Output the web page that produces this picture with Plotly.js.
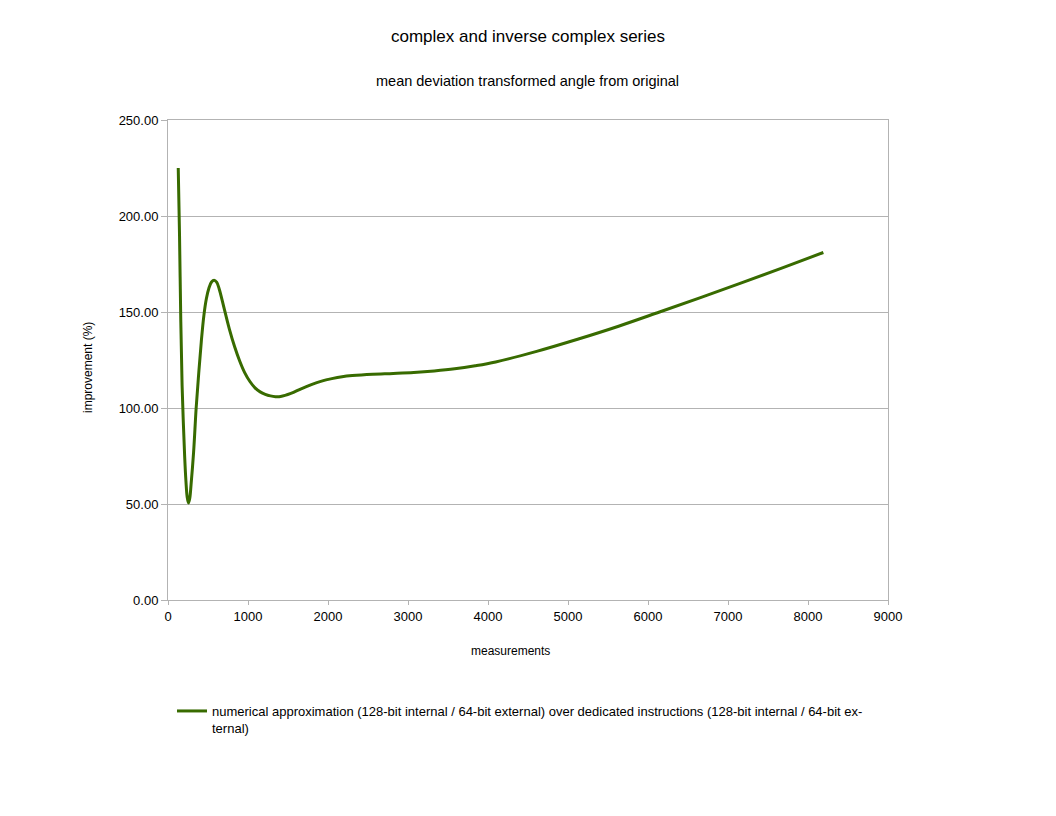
<!DOCTYPE html>
<html>
<head>
<meta charset="utf-8">
<script src="https://cdn.plot.ly/plotly-3.0.1.min.js"></script>
<style>
  html, body { margin: 0; padding: 0; background: #fff; }
  #chart { width: 1056px; height: 816px; }
</style>
</head>
<body>
<div id="chart"></div>
<script>
const measurements = [128, 144, 160, 176, 192, 208, 224, 240, 256, 272, 288, 320, 352, 384, 416, 448, 480,
  512, 544, 576, 608, 640, 704, 768, 832, 896, 960, 1024, 1088, 1152, 1216, 1280, 1344, 1408,
  1536, 1664, 1792, 1920, 2048, 2176, 2304, 2560, 2816, 3072, 3328, 3584, 3840, 4096,
  4608, 5120, 5632, 6144, 6656, 7168, 7680, 8192]

const improvement = [225.0, 190.0, 145.0, 112.0, 92.0, 75.0, 62.0, 53.5, 50.5, 53.0, 60.0, 77.0, 100.0, 118.0, 134.5, 148.0, 157.0,
  162.5, 165.6, 166.6, 165.6, 162.0, 151.5, 141.0, 132.0, 124.5, 118.3, 113.8, 110.5, 108.4, 107.1, 106.3, 105.9, 106.0,
  107.6, 110.0, 112.2, 114.0, 115.3, 116.3, 116.9, 117.6, 118.0, 118.5, 119.3, 120.4, 122.0, 124.0,
  129.5, 135.8, 142.6, 150.0, 157.5, 165.2, 173.0, 181.0]

const seriesName = 'numerical approximation (128-bit internal / 64-bit external) over dedicated instructions (128-bit internal / 64-bit ex-<br>ternal)'

const yTicks = [0, 50, 100, 150, 200, 250]

var trace = {
  x: measurements,
  y: improvement,
  name: seriesName,
  type: 'scatter',
  mode: 'lines',
  line: {color: '#386b00', width: 3, shape: 'spline', smoothing: 1}
};

// plot area is 720 x 480 px, starting at (168, 120)
var layout = {
  width: 1056,
  height: 816,
  paper_bgcolor: '#ffffff',
  plot_bgcolor: '#ffffff',
  font: {family: 'Liberation Sans, Arial, sans-serif', size: 13, color: '#000'},
  margin: {l: 168, r: 168, t: 120, b: 216},
  title: {
    text: 'complex and inverse complex series',
    font: {size: 17, color: '#000'},
    x: 0.5, xref: 'paper', xanchor: 'center',
    y: 1 - 36 / 816, yref: 'container', yanchor: 'middle'
  },
  annotations: [{
    text: 'mean deviation transformed angle from original',
    xref: 'paper', yref: 'paper', x: (527 - 168) / 720, y: 1 + 39 / 480,
    xanchor: 'center', yanchor: 'middle', showarrow: false,
    font: {size: 14.5, color: '#000'}
  }, {
    text: 'measurements',
    xref: 'paper', yref: 'paper', x: (510 - 168) / 720, y: -51 / 480,
    xanchor: 'center', yanchor: 'middle', showarrow: false,
    font: {size: 12, color: '#000'}
  }, {
    text: 'improvement (%)',
    xref: 'paper', yref: 'paper', x: (88 - 168) / 720, y: (600 - 368) / 480,
    xanchor: 'center', yanchor: 'middle', showarrow: false, textangle: -90,
    font: {size: 12, color: '#000'}
  }],
  xaxis: {
    range: [0, 9000],
    dtick: 1000,
    tick0: 0,
    showgrid: false,
    zeroline: false,
    showline: true,
    linecolor: '#b3b3b3',
    mirror: true,
    ticks: 'outside',
    ticklen: 4,
    tickcolor: '#b3b3b3',
    tickfont: {size: 13}
  },
  yaxis: {
    range: [0, 250],
    tickvals: yTicks,
    tickformat: '.2f',
    showgrid: true,
    gridcolor: '#b3b3b3',
    zeroline: false,
    showline: true,
    linecolor: '#b3b3b3',
    mirror: true,
    ticks: 'outside',
    ticklen: 6,
    tickcolor: '#b3b3b3',
    tickfont: {size: 13}
  },
  showlegend: true,
  legend: {
    x: 4 / 720, xanchor: 'left',
    y: -0.2, yanchor: 'top',
    valign: 'top',
    font: {size: 13},
    bgcolor: 'rgba(0,0,0,0)'
  }
};

Plotly.newPlot('chart', [trace], layout, {displayModeBar: false, staticPlot: true});
</script>
</body>
</html>
